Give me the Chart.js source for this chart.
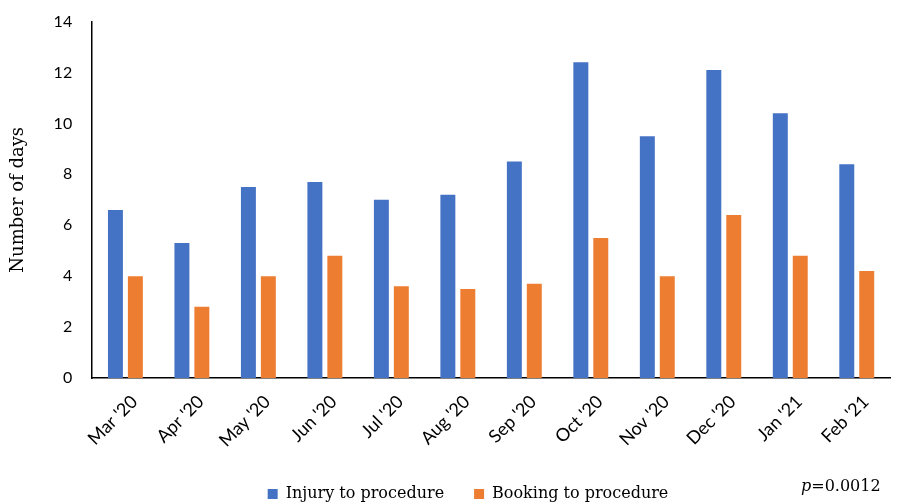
<!DOCTYPE html>
<html>
<head>
<meta charset="utf-8">
<script src="https://cdn.jsdelivr.net/npm/chart.js@4.4.0/dist/chart.umd.min.js"></script>
<style>
  html, body { margin: 0; padding: 0; background: #fff; }
  #wrap { width: 903px; height: 503px; }
</style>
</head>
<body>
<div id="wrap"><canvas id="barChart" width="903" height="503"></canvas></div>
<script>
  const months = ["Mar '20", "Apr '20", "May '20", "Jun '20", "Jul '20", "Aug '20",
    "Sep '20", "Oct '20", "Nov '20", "Dec '20", "Jan '21", "Feb '21"];
  const injuryToProcedure = [6.6, 5.3, 7.5, 7.7, 7.0, 7.2, 8.5, 12.4, 9.5, 12.1, 10.4, 8.4];
  const bookingToProcedure = [4.0, 2.8, 4.0, 4.8, 3.6, 3.5, 3.7, 5.5, 4.0, 6.4, 4.8, 4.2];
  const yTicks = [0, 2, 4, 6, 8, 10, 12, 14];

  // p-value note, bottom right + nudge legend a bit to the right
  const pValueNote = {
    id: 'pValueNote',
    afterLayout(chart) {
      chart.legend.left += 21;
      chart.legend.right += 21;
    },
    afterDraw(chart) {
      const c = chart.ctx;
      c.save();
      c.fillStyle = '#000';
      c.textBaseline = 'alphabetic';
      c.font = 'italic 16px "DejaVu Serif"';
      c.fillText('p', 801, 491);
      const w = c.measureText('p').width;
      c.font = '16px "DejaVu Serif"';
      c.fillText('=0.0012', 801 + w, 491);
      c.restore();
    }
  };

  const ctx = document.getElementById('barChart').getContext('2d');
  new Chart(ctx, {
    type: 'bar',
    data: {
      labels: months,
      datasets: [{
        label: 'Injury to procedure',
        data: injuryToProcedure,
        backgroundColor: '#4472c4',
        categoryPercentage: 0.6,
        barPercentage: 0.75
      }, {
        label: 'Booking to procedure',
        data: bookingToProcedure,
        backgroundColor: '#ed7d31',
        categoryPercentage: 0.6,
        barPercentage: 0.75
      }]
    },
    options: {
      responsive: false,
      animation: false,
      layout: { padding: { top: 12, right: 13, left: 4, bottom: -9 } },
      plugins: {
        tooltip: { enabled: false },
        legend: {
          position: 'bottom',
          labels: {
            boxWidth: 10,
            boxHeight: 10,
            padding: 30,
            color: '#000',
            font: { family: '"DejaVu Serif"', size: 16 }
          }
        }
      },
      scales: {
        x: {
          afterFit(scale) {
            scale.height = 78;
          },
          grid: { display: false },
          border: { display: true, color: '#000', width: 1.5 },
          ticks: {
            color: '#000',
            maxRotation: 45,
            minRotation: 45,
            padding: 5,
            labelOffset: 9,
            font: { family: 'Lato', size: 18 }
          }
        },
        y: {
          min: 0,
          max: 14,
          afterBuildTicks(scale) {
            scale.ticks = yTicks.map(v => ({ value: v }));
          },
          grid: { display: false },
          border: { display: true, color: '#000', width: 1.5 },
          ticks: {
            color: '#000',
            padding: 12,
            font: { family: 'Lato', size: 16 }
          },
          title: {
            display: true,
            text: 'Number of days',
            color: '#000',
            padding: { bottom: 12 },
            font: { family: '"DejaVu Serif"', size: 18 }
          }
        }
      }
    },
    plugins: [pValueNote]
  });
</script>
</body>
</html>
